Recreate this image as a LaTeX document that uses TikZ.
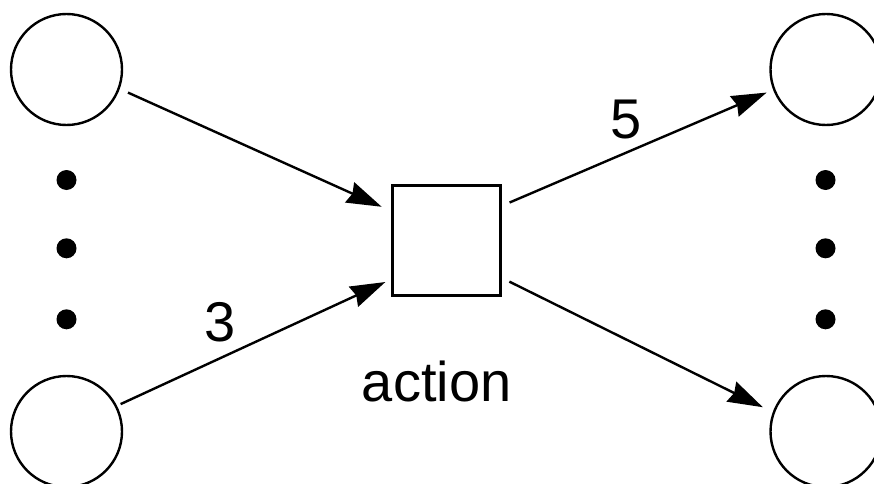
\documentclass[tikz,border=0pt]{standalone}
\usepackage{fontspec}
\setmainfont{Liberation Sans}
\usetikzlibrary{arrows.meta}

\tikzset{
  place/.style={circle,draw,line width=2.4pt,minimum size=111pt,inner sep=0pt},
  trans/.style={rectangle,draw,line width=3.4pt,minimum width=108pt,minimum height=110pt,inner sep=0pt},
  arc/.style={line width=2.4pt,-{Stealth[length=35pt,width=22pt,inset=3pt]}},
  dot/.style={circle,fill,minimum size=20pt,inner sep=0pt},
  lbl/.style={font=\fontsize{56}{66}\selectfont,inner sep=0pt,anchor=base}
}

\begin{document}
\begin{tikzpicture}[x=1pt,y=1pt]
\useasboundingbox (0,0) rectangle (874,483);
\clip (0,0) rectangle (874,483);
% places and the transition
\node[place] (in1) at (66.5,413.5) {};
\node[place] (in2) at (66.5,51.5) {};
\node[place] (out1) at (826,413.5) {};
\node[place] (out2) at (826,51.5) {};
\node[trans] (act) at (446.5,242.5) {};
\node[lbl] (actname) at (436.7,81.3) {action};
% elided places
\foreach \i/\y in {1/303,2/234.7,3/163.7} {
  \node[dot] (l\i) at (66.5,\y) {};
  \node[dot] (r\i) at (825.5,\y) {};
}
% arcs
\path (in1.-20) edge [arc,shorten <=9pt,shorten >=10pt] (act.152);
\path (in2.27) edge [arc,shorten <=4pt,shorten >=6pt] (act.215);
\path (act.32) edge [arc,shorten <=8pt,shorten >=7pt] (out1.201);
\path (act.-34) edge [arc,shorten <=8pt,shorten >=11pt] (out2.160);
% weights
\node[lbl] (w3) at (220,141.3) {3};
\node[lbl] (w5) at (625.8,344.7) {5};
\end{tikzpicture}
\end{document}
